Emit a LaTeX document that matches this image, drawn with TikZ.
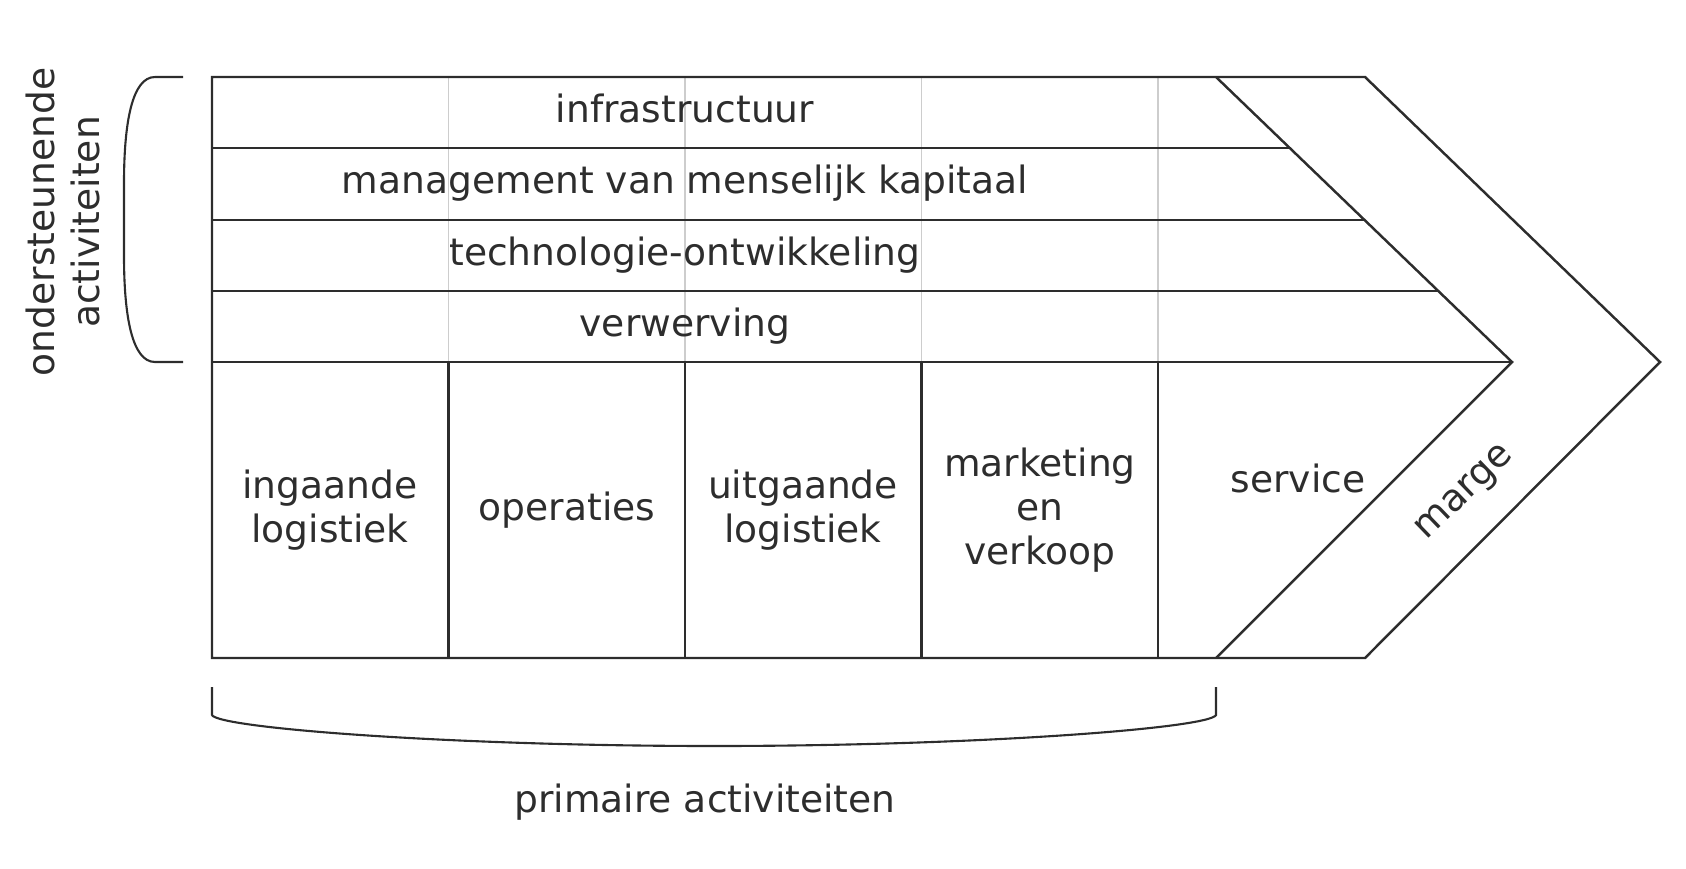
\documentclass[tikz,border=0pt]{standalone}
\usepackage{fontspec}
\setmainfont{DejaVu Sans}
\usepackage{tikz}
\definecolor{lijn}{RGB}{45, 45, 45}
\definecolor{hulplijn}{RGB}{205, 205, 205}

\begin{document}
\begin{tikzpicture}[font=\fontsize{10.7}{12.6}\selectfont,
		lbl/.style={align=center, inner sep=0pt, text=lijn},
		rij/.style={lbl, text height=1.5ex, text depth=0.5ex}]
		\useasboundingbox (0,0) rectangle (16.86,8.68);
		% faint column lines through the support rows
		\draw[hulplijn, line width=0.5pt] (4.485,7.91) -- (4.485,5.06);
		\draw[hulplijn, line width=0.5pt] (6.85,7.91) -- (6.85,5.06);
		\draw[hulplijn, line width=0.5pt] (9.215,7.91) -- (9.215,5.06);
		\draw[hulplijn, line width=0.5pt] (11.58,7.91) -- (11.58,5.06);
		% outline and chevron
		\draw[lijn, line width=0.7pt] (2.12,7.91) -- (13.65,7.91) -- (16.60,5.06) -- (13.65,2.10) -- (2.12,2.10) -- cycle;
		\draw[lijn, line width=0.7pt] (12.16,7.91) -- (15.12,5.06) -- (12.16,2.10);
		\draw[lijn, line width=0.7pt] (2.12,7.20) -- (12.897,7.20);
		\draw[lijn, line width=0.7pt] (2.12,6.48) -- (13.645,6.48);
		\draw[lijn, line width=0.7pt] (2.12,5.77) -- (14.383,5.77);
		\draw[lijn, line width=0.7pt] (2.12,5.06) -- (15.12,5.06);
		\draw[lijn, line width=0.7pt] (4.485,5.06) -- (4.485,2.10);
		\draw[lijn, line width=0.7pt] (6.85,5.06) -- (6.85,2.10);
		\draw[lijn, line width=0.7pt] (9.215,5.06) -- (9.215,2.10);
		\draw[lijn, line width=0.7pt] (11.58,5.06) -- (11.58,2.10);
		% support activities
		\node[rij] (infra) at (6.85,7.555) {infrastructuur};
		\node[rij] (hrm) at (6.85,6.84) {management van menselijk kapitaal};
		\node[rij] (tech) at (6.85,6.125) {technologie-ontwikkeling};
		\node[rij] (inkoop) at (6.85,5.415) {verwerving};
		% primary activities
		\node[lbl] (inlog) at (3.30,3.58) {ingaande\\logistiek};
		\node[lbl] (oper) at (5.67,3.58) {operaties};
		\node[lbl] (uitlog) at (8.03,3.58) {uitgaande\\logistiek};
		\node[lbl] (mkt) at (10.40,3.58) {marketing\\en\\verkoop};
		\node[lbl] (serv) at (12.98,3.90) {service};
		\node[lbl, rotate=44] (marge) at (14.66,3.74) {marge};
		% braces
		\draw[lijn, line width=0.6pt] (1.83,7.91) -- (1.55,7.91) .. controls (1.32,7.91) and (1.24,7.45) .. (1.24,6.85) -- (1.24,6.12) .. controls (1.24,5.52) and (1.32,5.06) .. (1.55,5.06) -- (1.83,5.06);
		\node[lbl, rotate=90] (onder) at (0.63,6.46) {ondersteunende\\activiteiten};
		\draw[lijn, line width=0.6pt] (2.12,1.81) -- (2.12,1.53) .. controls (2.18,1.40) and (4.5,1.22) .. (7.14,1.22) .. controls (9.8,1.22) and (12.10,1.40) .. (12.16,1.53) -- (12.16,1.81);
		\node[lbl] (prim) at (7.05,0.66) {primaire activiteiten};
	\end{tikzpicture}
\end{document}
